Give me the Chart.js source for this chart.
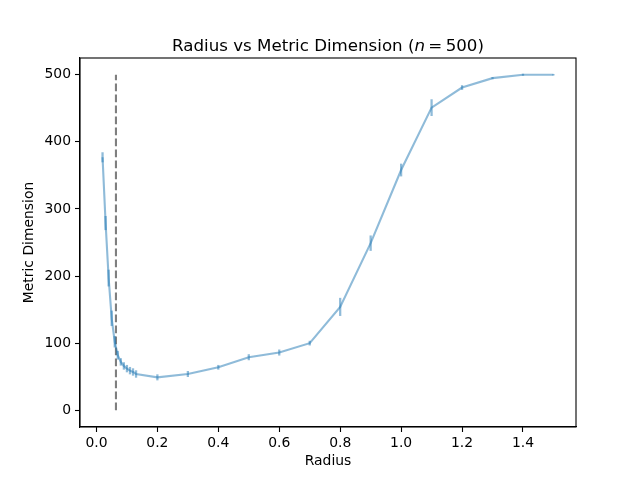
<!DOCTYPE html>
<html>
<head>
<meta charset="utf-8">
<title>Radius vs Metric Dimension</title>
<script src="https://cdn.jsdelivr.net/npm/chart.js@4"></script>
<style>
  html, body { margin: 0; padding: 0; background: #fff; }
  #wrap { width: 640px; height: 480px; }
</style>
</head>
<body>
<div id="wrap"><canvas id="myChart" width="640" height="480"></canvas></div>
<script>
// radius values (x)
const radios = [0.02, 0.03, 0.04, 0.05, 0.06, 0.07, 0.08, 0.09, 0.10, 0.11, 0.12, 0.13,
                0.2, 0.3, 0.4, 0.5, 0.6, 0.7, 0.8, 0.9, 1.0, 1.1, 1.2, 1.3, 1.4, 1.5];
// mean metric dimension
const dimension = [377, 279, 197, 137, 102, 82, 72, 66, 62, 59, 57, 54,
                   49, 54, 64, 79, 86, 100, 154, 249, 358, 451, 481, 495, 500, 500];
// error (+/-)
const errores = [7, 10, 12, 11, 8, 6, 5, 5, 5, 5, 5, 5,
                 4, 4, 3, 4, 4, 3, 13, 11, 9, 12, 3, 1, 1, 0.5];
// dashed threshold line
const umbralX = 0.064;
const umbralY = [0, 500];

const xTicks = [0.0, 0.2, 0.4, 0.6, 0.8, 1.0, 1.2, 1.4];
const yTicks = [0, 100, 200, 300, 400, 500];

const azul = 'rgba(31, 119, 180, 0.5)';
const fuente = 'DejaVu Sans';

const puntos = radios.map(function(r, i) { return {x: r, y: dimension[i]}; });
const barras = radios.map(function(r, i) { return {x: r, y: [dimension[i] - errores[i], dimension[i] + errores[i]]}; });
const linea = umbralY.map(function(v) { return {x: umbralX, y: v}; });

/* titulo con la n en cursiva */
const tituloPlugin = {
    id: 'titulo',
    afterDraw: function(chart) {
        const ctx = chart.ctx;
        const size = 16.67;
        const partes = [
            {t: 'Radius vs Metric Dimension (', f: size + 'px "' + fuente + '"'},
            {t: 'n', f: 'italic ' + size + 'px "' + fuente + '"'},
            {t: '\u2009=\u2009500)', f: size + 'px "' + fuente + '"'}
        ];
        ctx.save();
        ctx.fillStyle = '#000';
        ctx.textBaseline = 'alphabetic';
        let total = 0;
        partes.forEach(function(p) { ctx.font = p.f; p.w = ctx.measureText(p.t).width; total += p.w; });
        const area = chart.chartArea;
        let x = (area.left + area.right) / 2 - total / 2;
        partes.forEach(function(p) {
            ctx.font = p.f;
            ctx.textAlign = 'left';
            ctx.fillText(p.t, x, 50.5);
            x += p.w;
        });
        ctx.restore();
    }
};

/* marco de los ejes */
const marcoPlugin = {
    id: 'marco',
    afterDatasetsDraw: function(chart) {
        const a = chart.chartArea;
        const ctx = chart.ctx;
        ctx.save();
        ctx.strokeStyle = '#000';
        ctx.lineWidth = 1.1;
        ctx.strokeRect(a.left, a.top, a.right - a.left, a.bottom - a.top);
        ctx.restore();
    }
};

var ctx = document.querySelector('#myChart');
var myChart = new Chart(ctx, {
    data: {
        datasets: [{
            type: 'line',
            data: puntos,
            borderColor: azul,
            borderWidth: 2.1,
            pointRadius: 0,
            fill: false,
            order: 2
        }, {
            type: 'bar',
            data: barras,
            backgroundColor: azul,
            borderWidth: 0,
            barThickness: 1.6,
            order: 1
        }, {
            type: 'line',
            data: linea,
            borderColor: 'rgba(0, 0, 0, 0.5)',
            borderWidth: 2.1,
            borderDash: [7.7, 3.3],
            pointRadius: 0,
            fill: false,
            order: 3
        }]
    },
    options: {
        responsive: false,
        animation: false,
        layout: { padding: { left: 0, right: 64, top: 58, bottom: 0 } },
        plugins: {
            legend: { display: false },
            tooltip: { enabled: false },
            title: { display: false }
        },
        scales: {
            x: {
                type: 'linear',
                offset: false,
                min: -0.054,
                max: 1.574,
                afterFit: function(s) { s.height = 53; },
                afterBuildTicks: function(s) { s.ticks = xTicks.map(function(v) { return {value: v}; }); },
                grid: { offset: false, drawOnChartArea: false, drawTicks: true, tickLength: 5, tickColor: '#000', tickWidth: 1.1 },
                border: { display: true, color: '#000', width: 1.1 },
                ticks: {
                    color: '#000',
                    padding: 3,
                    maxRotation: 0,
                    font: { family: fuente, size: 13.9 },
                    callback: function(v) { return v.toFixed(1); }
                },
                title: {
                    display: true,
                    text: 'Radius',
                    color: '#000',
                    font: { family: fuente, size: 13.9 },
                    padding: { top: 0, bottom: 10 }
                }
            },
            y: {
                type: 'linear',
                min: -25,
                max: 525,
                afterFit: function(s) { s.width = 80; },
                afterBuildTicks: function(s) { s.ticks = yTicks.map(function(v) { return {value: v}; }); },
                grid: { drawOnChartArea: false, drawTicks: true, tickLength: 5, tickColor: '#000', tickWidth: 1.1 },
                border: { display: true, color: '#000', width: 1.1 },
                ticks: {
                    color: '#000',
                    padding: 4,
                    font: { family: fuente, size: 13.9 }
                },
                title: {
                    display: true,
                    text: 'Metric Dimension',
                    color: '#000',
                    font: { family: fuente, size: 13.9 },
                    padding: { top: 21, bottom: 0 }
                }
            }
        }
    },
    plugins: [tituloPlugin, marcoPlugin]
});
</script>
</body>
</html>
